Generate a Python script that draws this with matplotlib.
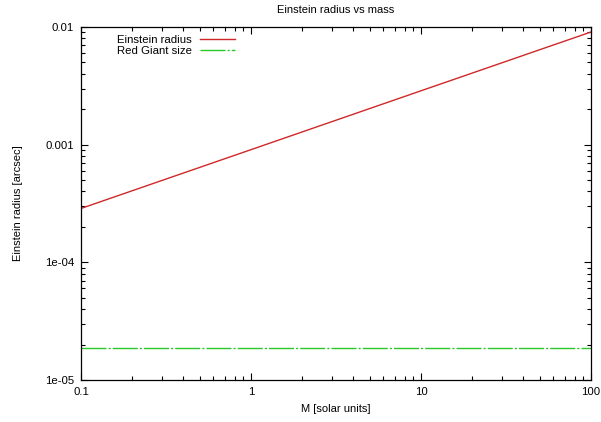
import matplotlib
matplotlib.use("Agg")
import matplotlib.pyplot as plt
from matplotlib.ticker import LogLocator, NullFormatter, FixedLocator, FixedFormatter

mass = [0.1, 1, 10, 100]
einstein_radius = [2.87e-4, 9.07e-4, 2.87e-3, 9.07e-3]
red_giant_size = [1.87e-5, 1.87e-5, 1.87e-5, 1.87e-5]
xticks = [0.1, 1, 10, 100]
xticklabels = ["0.1", "1", "10", "100"]
yticks = [1e-5, 1e-4, 1e-3, 1e-2]
yticklabels = ["1e-05", "1e-04", "0.001", "0.01"]

plt.rcParams['font.family'] = ['Liberation Sans', 'DejaVu Sans']
fig = plt.figure(figsize=(6.01, 4.22), dpi=100)
ax = fig.add_axes([81/601, 1-380/422, (591-81)/601, (380-27)/422])

ax.plot(mass, einstein_radius, color='#d02828', lw=1.0, label='Einstein radius')
ax.plot(mass, red_giant_size, color='#28c828', lw=1.0, dashes=(18, 1.5, 1.5, 1.5), label='Red Giant size')

ax.set_xscale('log')
ax.set_yscale('log')
ax.set_xlim(0.1, 100)
ax.set_ylim(1e-5, 1e-2)
ax.xaxis.set_major_locator(FixedLocator(xticks))
ax.xaxis.set_major_formatter(FixedFormatter(xticklabels))
ax.yaxis.set_major_locator(FixedLocator(yticks))
ax.yaxis.set_major_formatter(FixedFormatter(yticklabels))
ax.xaxis.set_minor_locator(LogLocator(base=10, subs=range(2, 10)))
ax.yaxis.set_minor_locator(LogLocator(base=10, subs=range(2, 10)))
ax.xaxis.set_minor_formatter(NullFormatter())
ax.yaxis.set_minor_formatter(NullFormatter())
ax.tick_params(which='both', direction='in', top=True, right=True, labelsize=8.2, width=0.8)
ax.tick_params(which='major', length=5, pad=5)
ax.tick_params(which='minor', length=3)
for s in ax.spines.values():
    s.set_linewidth(0.9)

ax.set_xlabel('M [solar units]', fontsize=8, labelpad=5)
ax.set_ylabel('Einstein radius [arcsec]', fontsize=8, labelpad=16)
ax.set_title('Einstein radius vs mass', fontsize=8, pad=10)

leg = ax.legend(loc='upper left', bbox_to_anchor=(0.055, 1.0), markerfirst=False, frameon=False,
                fontsize=8.2, handlelength=3.1, handletextpad=0.7, labelspacing=0.1,
                borderaxespad=0.3)

fig.savefig('out.png', dpi=100)
